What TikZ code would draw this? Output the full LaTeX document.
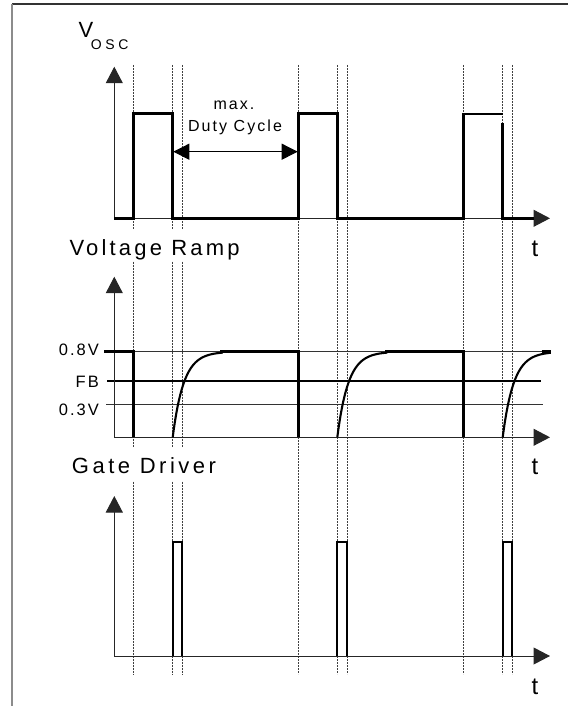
\documentclass[tikz,border=0pt]{standalone}
\usepackage{fontspec}
\setmainfont{Liberation Sans}
\newfontfamily\fbig[LetterSpace=14.5]{Liberation Sans}
\newfontfamily\fgate[LetterSpace=16]{Liberation Sans}
\newfontfamily\fmid[LetterSpace=13]{Liberation Sans}
\newfontfamily\fsub[LetterSpace=26]{Liberation Sans}
\newfontfamily\flev[LetterSpace=12]{Liberation Sans}
\usetikzlibrary{arrows.meta}
\begin{document}
\begin{tikzpicture}[x=1pt,y=-1pt,
  axis/.style={line width=1pt, black!85, -{Triangle[length=16.5pt,width=17pt]}},
  dimarrow/.style={line width=1pt, black, {Triangle[length=16pt,width=16pt]}-{Triangle[length=16pt,width=16pt]}},
  wave/.style={line width=2.7pt, line join=miter, line cap=butt},
  thinwave/.style={line width=2pt, line cap=butt},
  ramp/.style={line width=2.1pt},
  gate/.style={line width=2.3pt, line join=miter, line cap=butt},
  guide/.style={line width=0.6pt, black!75, dash pattern=on 2pt off 1pt},
  level/.style={line width=0.9pt, black!80},
  fbline/.style={line width=2pt},
  biglbl/.style={inner sep=0pt, font=\fbig\fontsize{22}{22}\selectfont},
  tlbl/.style={inner sep=0pt, anchor=base, font=\fontsize{24}{24}\selectfont},
  midlbl/.style={inner sep=0pt, font=\fmid\fontsize{16}{16}\selectfont},
  levlbl/.style={inner sep=0pt, anchor=base east, font=\flev\fontsize{16.5}{16.5}\selectfont},
]
\useasboundingbox (0,0) rectangle (568,706);
% frame
\draw[line width=1.2pt, black!80] (12,4) -- (568,4);
\draw[line width=1.8pt, black!45] (12,4) -- (12,706);

% guides
\foreach \gx in {133.3,172.7,182}{
  \draw[guide] (\gx,65) -- (\gx,228.7);
  \draw[guide] (\gx,261.7) -- (\gx,446.7);
  \draw[guide] (\gx,481.7) -- (\gx,674);
}
\foreach \gx in {298.7,337.3,347.3,463.3,502.7,512}{
  \draw[guide] (\gx,65) -- (\gx,674);
}

% ---------- top panel: V_OSC ----------
\coordinate (o1) at (114.3,218.3);
\coordinate (y1) at (114.3,66.7);
\coordinate (x1) at (550,218.3);
\draw[axis] (o1) -- (y1);
\draw[axis] (o1) -- (x1);
\draw[wave] (o1) -| (133.3,113.7) -| (172.7,218.3) -| (298.7,113.7) -| (337.3,218.3) -- (463.3,218.3) -- (463.3,113.7);
\draw[thinwave] (462.3,113.7) -- (502.7,113.7);
\draw[wave] (502.7,123.3) -- (502.7,218.3) -- (534,218.3);
\node[inner sep=0pt, anchor=base west, font=\fontsize{22}{22}\selectfont] (vosc) at (78.3,37.3) {V};
\node[inner sep=0pt, anchor=base west, font=\fsub\fontsize{14}{14}\selectfont] (osc) at (90.7,49.3) {OSC};
\node[midlbl, anchor=base] (maxl) at (234,110) {max.};
\node[midlbl, anchor=base] (dutyl) at (235,131.7) {Duty Cycle};
\coordinate (da) at (173.3,151.7);
\coordinate (db) at (297.7,151.7);
\draw[dimarrow] (da) -- (db);
\node[tlbl] (t1) at (535,256.7) {t};

% ---------- middle panel: Voltage Ramp ----------
\node[biglbl, anchor=base west] (vr) at (69.3,255) {Voltage Ramp};
\coordinate (o2) at (114.3,437.3);
\coordinate (y2) at (114.3,276.7);
\coordinate (x2) at (550,437.3);
\draw[level] (114.3,351.7) -- (543,351.7);
\draw[level] (106,404.7) -- (542.7,404.7);
\draw[fbline] (107.3,380.7) -- (540.7,380.7);
\draw[axis] (o2) -- (y2);
\draw[axis] (o2) -- (x2);
\draw[wave] (104.3,351.7) -| (133.3,437.3);
\draw[ramp] plot[domain=0:50, samples=60, smooth] ({172.7+\x},{437.3-85.6*(1-exp(-\x/11))});
\draw[wave] (220,351.7) -- (298.7,351.7) -- (298.7,437.3);
\draw[ramp] plot[domain=0:50, samples=60, smooth] ({337.3+\x},{437.3-85.6*(1-exp(-\x/11))});
\draw[wave] (385,351.7) -- (463.3,351.7) -- (463.3,437.3);
\draw[ramp] plot[domain=0:48, samples=60, smooth] ({502.7+\x},{437.3-85.6*(1-exp(-\x/11))});
\draw[wave] (541.5,351.7) -- (550.7,351.7);
\node[levlbl] (l08) at (99,355) {0.8V};
\node[levlbl] (lfb) at (99,387.5) {FB};
\node[levlbl] (l03) at (99,415) {0.3V};
\node[tlbl] (t2) at (535,474) {t};

% ---------- bottom panel: Gate Driver ----------
\node[inner sep=0pt, anchor=base west, font=\fgate\fontsize{22}{22}\selectfont] (gd) at (71.7,473.3) {Gate Driver};
\coordinate (o3) at (114.3,656);
\coordinate (y3) at (114.3,496);
\coordinate (x3) at (550,656);
\draw[axis] (o3) -- (y3);
\draw[axis] (o3) -- (x3);
\draw[gate] (172.7,656) |- (182,542.3) -- (182,656);
\draw[gate] (337.3,656) |- (347.3,542.3) -- (347.3,656);
\draw[gate] (502.7,656) |- (512,542.3) -- (512,656);
\node[tlbl] (t3) at (535,694) {t};
\end{tikzpicture}
\end{document}
